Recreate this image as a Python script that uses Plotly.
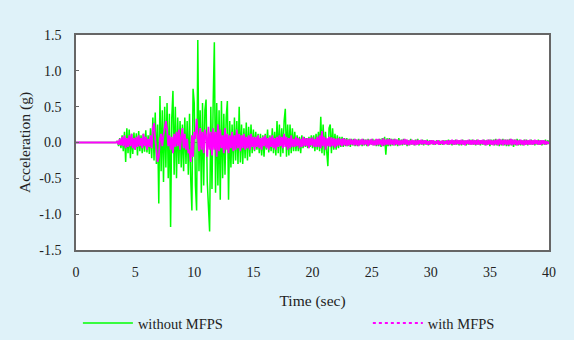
import plotly.graph_objects as go

# Ground-motion record sampled every 0.1 s from 3.5 s (quiet before that)
t_quiet = [0.0, 1.2, 1.3, 1.4, 3.4]
a_quiet_without = [0.0, 0.0, 0.01, 0.0, 0.0]
a_quiet_with = [0.0, 0.0, 0.01, 0.0, 0.0]
t_start = 3.5
dt = 0.1

# Acceleration (g) without MFPS, one row per second starting at 3.5 s
acc_without = [
    0.02, -0.05, 0.06, -0.08, 0.10, -0.12, 0.15, -0.27, 0.20, -0.15,
    0.18, -0.22, 0.12, -0.16, 0.14, -0.10, 0.13, -0.18, 0.16, -0.12,
    0.10, -0.15, 0.12, -0.13, 0.17, -0.14, 0.10, -0.16, 0.20, -0.22,
    0.35, -0.25, 0.42, -0.30, 0.25, -0.85, 0.65, -0.40, 0.45, -0.55,
    0.50, -0.35, 0.55, -0.50, 0.40, -1.18, 0.35, 0.72, -0.45, 0.50,
    -0.50, 0.35, -0.30, 0.30, -0.35, 0.25, -0.40, 0.35, -0.30, 0.30,
    -0.45, 0.40, -0.50, -0.95, 0.75, 0.55, -0.60, -0.95, 1.43, -0.40,
    0.45, -0.70, 0.55, -0.60, 0.45, 0.60, -0.55, -0.90, -1.24, 0.50,
    -0.65, 0.55, 1.40, -0.70, 0.55, -0.60, 0.45, -0.80, 0.58, -0.50,
    0.40, -0.45, 0.35, 0.58, -0.80, 0.30, -0.35, 0.25, -0.30, 0.35,
    -0.25, 0.30, -0.30, 0.50, -0.28, 0.25, -0.30, 0.20, -0.22, 0.28,
    -0.25, 0.22, -0.20, 0.25, -0.15, 0.18, -0.12, 0.15, -0.10, 0.12,
    -0.15, 0.12, -0.18, 0.10, -0.20, 0.12, -0.10, 0.18, -0.14, 0.10,
    -0.12, 0.20, -0.15, 0.15, -0.18, 0.30, -0.15, 0.25, -0.20, 0.20,
    -0.15, 0.30, 0.47, -0.20, 0.25, -0.18, 0.25, -0.15, 0.20, -0.12,
    0.15, -0.12, 0.10, -0.12, 0.08, -0.15, 0.10, -0.08, 0.08, -0.06,
    0.06, -0.08, 0.08, -0.06, 0.10, -0.08, 0.10, -0.12, 0.12, -0.10,
    0.15, -0.12, 0.36, -0.15, 0.25, -0.18, 0.15, -0.12, -0.33, 0.20,
    0.25, -0.15, 0.20, -0.10, 0.12, -0.10, 0.10, -0.08, 0.08, -0.06,
    0.08, -0.06, 0.06, -0.05, 0.06, -0.05, 0.05, -0.06, 0.05, -0.04,
    0.05, -0.05, 0.04, -0.05, 0.05, -0.04, 0.04, -0.05, 0.05, -0.04,
    0.04, -0.05, 0.05, -0.04, 0.04, -0.03, 0.05, -0.04, 0.04, -0.05,
    0.04, -0.05, 0.05, -0.06, 0.06, -0.05, 0.08, -0.17, 0.06, -0.05,
    0.06, -0.05, 0.05, -0.04, 0.05, -0.04, 0.04, -0.05, 0.06, -0.04,
    0.04, -0.04, 0.05, -0.03, 0.04, -0.05, 0.03, -0.04, 0.05, -0.03,
    0.03, -0.04, 0.04, -0.03, 0.05, -0.04, 0.03, -0.03, 0.04, -0.04,
    0.03, -0.03, 0.04, -0.04, 0.03, -0.02, 0.03, -0.03, 0.02, -0.03,
    0.03, -0.02, 0.03, -0.03, 0.02, -0.03, 0.03, -0.02, 0.03, -0.03,
    0.04, -0.03, 0.03, -0.04, 0.03, -0.03, 0.04, -0.03, 0.03, -0.04,
    0.03, -0.04, 0.04, -0.03, 0.03, -0.04, 0.03, -0.03, 0.04, -0.03,
    0.04, -0.03, 0.03, -0.04, 0.04, -0.03, 0.03, -0.04, 0.03, -0.03,
    0.04, -0.04, 0.03, -0.03, 0.04, -0.05, 0.04, -0.03, 0.04, -0.04,
    0.05, -0.04, 0.04, -0.05, 0.04, -0.04, 0.05, -0.04, 0.04, -0.05,
    0.04, -0.05, 0.05, -0.04, 0.04, -0.06, 0.04, -0.04, 0.05, -0.04,
    0.04, -0.04, 0.03, -0.04, 0.04, -0.03, 0.04, -0.04, 0.03, -0.03,
    0.04, -0.03, 0.03, -0.04, 0.03, -0.03, 0.04, -0.03, 0.03, -0.04,
    0.03, -0.03, 0.04, -0.03, 0.03, -0.02,
]

# Acceleration (g) with MFPS, same sampling
acc_with = [
    0.02, -0.03, 0.05, -0.04, 0.08, -0.05, 0.10, -0.08, 0.06, -0.06,
    0.10, -0.05, 0.12, -0.08, 0.06, -0.10, 0.08, -0.06, 0.10, -0.05,
    0.06, -0.08, 0.12, -0.05, 0.08, -0.10, 0.05, -0.06, 0.10, -0.08,
    0.20, 0.27, 0.05, -0.15, -0.27, -0.20, 0.05, 0.12, -0.05, 0.10,
    0.20, 0.30, 0.18, -0.05, 0.10, -0.10, 0.08, -0.15, 0.12, -0.06,
    0.15, -0.05, 0.18, -0.10, 0.08, 0.20, -0.08, 0.12, -0.10, 0.05,
    -0.15, -0.10, -0.27, 0.10, -0.20, 0.15, 0.05, 0.33, 0.10, -0.12,
    0.20, -0.10, 0.15, -0.15, 0.18, 0.10, -0.20, 0.22, -0.10, 0.15,
    -0.18, 0.20, -0.10, 0.15, -0.20, 0.25, -0.12, 0.18, -0.08, 0.10,
    -0.15, 0.20, -0.10, 0.12, -0.15, 0.10, -0.08, 0.15, -0.12, 0.10,
    -0.10, 0.18, -0.08, 0.12, -0.12, 0.10, -0.08, 0.12, -0.10, 0.08,
    -0.08, 0.10, -0.10, 0.12, -0.06, 0.08, -0.10, 0.08, -0.06, 0.10,
    -0.08, 0.06, -0.10, 0.08, -0.05, 0.10, -0.08, 0.06, -0.10, 0.08,
    -0.06, 0.10, -0.08, 0.06, -0.10, 0.08, -0.06, 0.10, -0.05, 0.08,
    -0.08, 0.12, -0.06, 0.08, -0.10, 0.06, -0.08, 0.10, -0.06, 0.05,
    -0.06, 0.08, -0.05, 0.06, -0.08, 0.05, -0.06, 0.08, -0.05, 0.06,
    -0.05, 0.06, -0.08, 0.06, -0.04, 0.07, -0.06, 0.05, -0.06, 0.08,
    -0.06, 0.10, -0.08, 0.16, -0.05, 0.08, -0.10, 0.06, -0.05, 0.08,
    -0.06, 0.07, -0.05, 0.06, -0.07, 0.05, -0.05, 0.06, -0.04, 0.05,
    -0.05, 0.06, -0.04, 0.05, -0.05, 0.04, -0.04, 0.05, -0.03, 0.04,
    -0.04, 0.05, -0.04, 0.04, -0.05, 0.04, -0.03, 0.05, -0.04, 0.04,
    -0.03, 0.04, -0.05, 0.04, -0.03, 0.05, -0.04, 0.03, -0.04, 0.05,
    -0.04, 0.05, -0.03, 0.04, -0.05, 0.06, -0.04, 0.04, -0.03, 0.05,
    -0.04, 0.05, -0.03, 0.04, -0.04, 0.05, -0.03, 0.04, -0.04, 0.03,
    -0.03, 0.04, -0.03, 0.05, -0.03, 0.04, -0.04, 0.03, -0.03, 0.04,
    -0.03, 0.03, -0.04, 0.04, -0.03, 0.03, -0.02, 0.04, -0.03, 0.03,
    -0.02, 0.03, -0.03, 0.02, -0.03, 0.03, -0.02, 0.03, -0.03, 0.02,
    -0.02, 0.03, -0.03, 0.02, -0.02, 0.03, -0.03, 0.02, -0.02, 0.03,
    -0.03, 0.03, -0.02, 0.04, -0.03, 0.03, -0.03, 0.04, -0.02, 0.03,
    -0.03, 0.04, -0.03, 0.03, -0.04, 0.03, -0.02, 0.04, -0.03, 0.03,
    -0.03, 0.04, -0.03, 0.03, -0.03, 0.04, -0.03, 0.03, -0.02, 0.04,
    -0.03, 0.03, -0.04, 0.04, -0.03, 0.04, -0.03, 0.03, -0.04, 0.04,
    -0.03, 0.04, -0.04, 0.05, -0.03, 0.04, -0.04, 0.04, -0.03, 0.04,
    -0.04, 0.04, -0.03, 0.05, -0.04, 0.04, -0.03, 0.04, -0.04, 0.03,
    -0.03, 0.04, -0.03, 0.03, -0.04, 0.04, -0.03, 0.03, -0.03, 0.04,
    -0.03, 0.03, -0.03, 0.04, -0.02, 0.03, -0.03, 0.03, -0.03, 0.03,
    -0.02, 0.03, -0.03, 0.02, -0.02, 0.01,
]

y_ticks = [-1.5, -1.0, -0.5, 0.0, 0.5, 1.0, 1.5]
y_tick_text = ["-1.5", "-1.0", "-0.5", "0.0", "0.5", "1.0", "1.5"]
x_ticks = [0, 5, 10, 15, 20, 25, 30, 35, 40]

t_without = t_quiet + [round(t_start + dt * i, 2) for i in range(len(acc_without))]
a_without = a_quiet_without + acc_without
t_with = t_quiet + [round(t_start + dt * i, 2) for i in range(len(acc_with))]
a_with = a_quiet_with + acc_with

GREEN = "#00FF00"
MAGENTA = "#FF00FF"
FONT = "Liberation Serif"

fig = go.Figure()
fig.add_trace(go.Scatter(
    x=t_without, y=a_without, mode="lines", name="without MFPS",
    line=dict(color=GREEN, width=1.5), legend="legend",
))
fig.add_trace(go.Scatter(
    x=t_with, y=a_with, mode="lines", name="with MFPS", showlegend=False,
    line=dict(color=MAGENTA, width=1.8),
))
# legend key for the dotted MFPS line
fig.add_trace(go.Scatter(
    x=[None], y=[None], mode="lines", name="with MFPS",
    line=dict(color=MAGENTA, width=2, dash="dot"), legend="legend2",
))

legend_style = dict(
    orientation="h", y=-0.34, xanchor="left", yanchor="middle",
    bgcolor="rgba(0,0,0,0)", itemwidth=50,
    font=dict(size=14.5, color="#222222"),
)
fig.update_layout(
    width=574, height=340,
    margin=dict(l=76, r=25, t=35, b=90, autoexpand=False),
    paper_bgcolor="#DFF2F9",
    plot_bgcolor="white",
    font=dict(family=FONT, size=14, color="#222222"),
    showlegend=True,
    legend=dict(x=0.004, **legend_style),
    legend2=dict(x=0.617, **legend_style),
)
fig.update_xaxes(
    range=[0, 40], tickvals=x_ticks, showgrid=False, zeroline=False,
    showline=True, linecolor="#666666", linewidth=1.5, mirror=True,
    ticks="", ticklabelstandoff=8,
    title=dict(text="Time (sec)", standoff=17, font=dict(size=15.5)),
)
fig.update_yaxes(
    range=[-1.5, 1.5], tickvals=y_ticks, ticktext=y_tick_text,
    showgrid=False, zeroline=True, zerolinecolor="#888888", zerolinewidth=1,
    showline=True, linecolor="#666666", linewidth=1.5, mirror=True,
    ticks="inside", ticklen=3, tickcolor="#666666", ticklabelstandoff=10,
    title=dict(text="Acceleration (g)", standoff=5, font=dict(size=15.5)),
)

fig.write_html("out.html")
